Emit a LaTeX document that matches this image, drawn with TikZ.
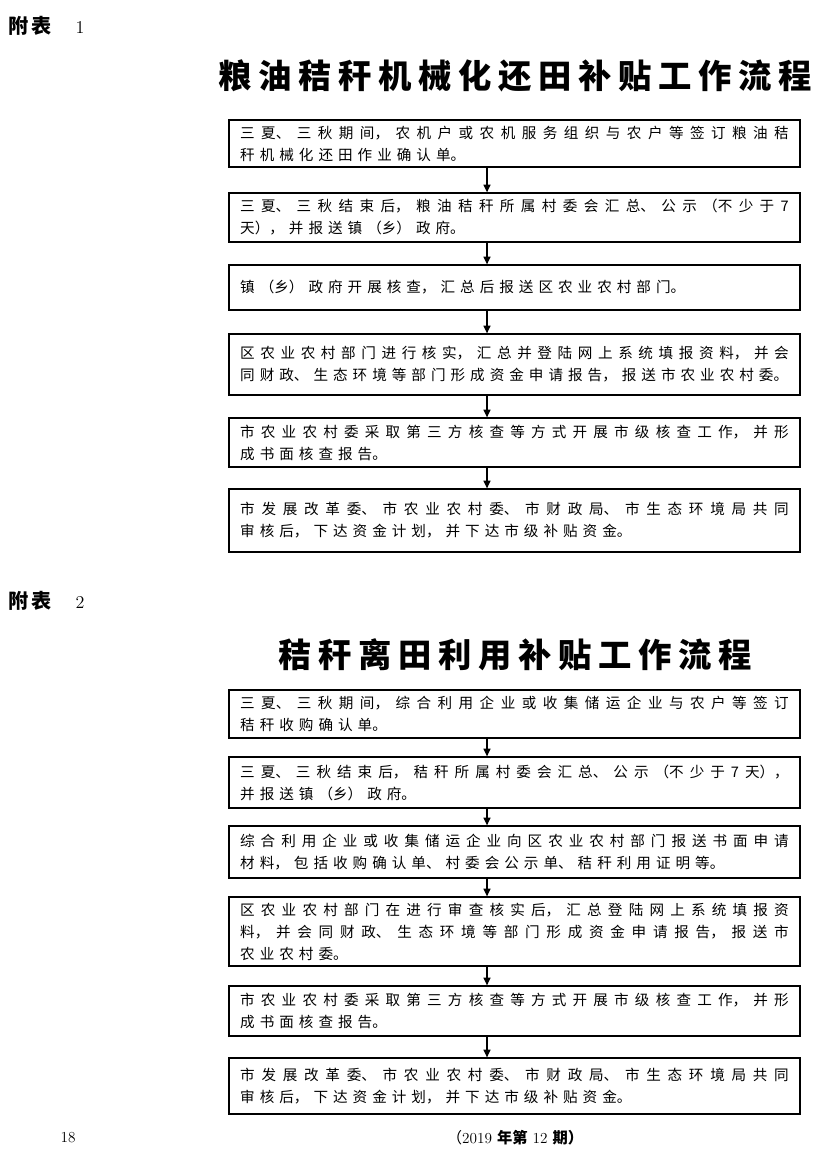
\documentclass[tikz,border=0pt]{standalone}
\usepackage{fontspec}
\usepackage{tikz}
\usetikzlibrary{arrows.meta}
\newfontfamily\cjk{Noto Sans CJK SC}
\newfontfamily\cjktitle[LetterSpace=20]{Noto Sans CJK SC}
\XeTeXlinebreaklocale "zh"
\XeTeXlinebreakskip=3.6pt plus 8pt minus 1.2pt
\tolerance=10000 \hbadness=10000
\tikzset{>/.tip={Triangle[length=5.5pt,width=5pt]},
  stepbox/.style={draw, line width=0.9pt, text width=395pt, inner xsep=8pt,
    inner ysep=0pt, minimum height=#1*0.72pt, align=justify,
    font=\cjk\fontsize{10.5pt}{15.8pt}\selectfont},
  title/.style={inner sep=0pt, font=\cjktitle\bfseries\fontsize{24pt}{28pt}\selectfont},
  head/.style={anchor=west, inner sep=0pt},
  flow/.style={->, line width=1pt}}

\begin{document}
\begin{tikzpicture}[x=0.72pt,y=-0.72pt]
\fill[white] (0,0) rectangle (827,1170);
\useasboundingbox (0,0) rectangle (827,1170);
\coordinate (ax) at (487,0);

% table 1
\node[head] (head1) at (8,26) {{\cjk\bfseries\fontsize{14.5pt}{16pt}\selectfont 附\hspace{2.5pt}表}\hspace{17pt}{\fontsize{13pt}{15pt}\selectfont 1}};
\node[title] (title1) at (515,76) {粮油秸秆机械化还田补贴工作流程};
\node[stepbox=47] (a1) at (514.5,143.5) {三夏、三秋期间，农机户或农机服务组织与农户等签订粮油秸\linebreak 秆机械化还田作业确认单。};
\node[stepbox=49] (a2) at (514.5,217.5) {三夏、三秋结束后，粮油秸秆所属村委会汇总、公示（不少于7\linebreak 天），并报送镇（乡）政府。};
\node[stepbox=45] (a3) at (514.5,287.5) {镇（乡）政府开展核查，汇总后报送区农业农村部门。};
\node[stepbox=61] (a4) at (514.5,364.5) {区农业农村部门进行核实，汇总并登陆网上系统填报资料，并会\linebreak 同财政、生态环境等部门形成资金申请报告，报送市农业农村委。};
\node[stepbox=49] (a5) at (514.5,442.5) {市农业农村委采取第三方核查等方式开展市级核查工作，并形\linebreak 成书面核查报告。};
\node[stepbox=63] (a6) at (514.5,520.5) {市发展改革委、市农业农村委、市财政局、市生态环境局共同\linebreak 审核后，下达资金计划，并下达市级补贴资金。};
\draw[flow] (ax |- a1.south) -- (ax |- a2.north);
\draw[flow] (ax |- a2.south) -- (ax |- a3.north);
\draw[flow] (ax |- a3.south) -- (ax |- a4.north);
\draw[flow] (ax |- a4.south) -- (ax |- a5.north);
\draw[flow] (ax |- a5.south) -- (ax |- a6.north);

% table 2
\node[head] (head2) at (8,601) {{\cjk\bfseries\fontsize{14.5pt}{16pt}\selectfont 附\hspace{2.5pt}表}\hspace{17pt}{\fontsize{13pt}{15pt}\selectfont 2}};
\node[title] (title2) at (515,655) {秸秆离田利用补贴工作流程};
\node[stepbox=48] (b1) at (514.5,714) {三夏、三秋期间，综合利用企业或收集储运企业与农户等签订\linebreak 秸秆收购确认单。};
\node[stepbox=51] (b2) at (514.5,782.5) {三夏、三秋结束后，秸秆所属村委会汇总、公示（不少于7天），\linebreak 并报送镇（乡）政府。};
\node[stepbox=52] (b3) at (514.5,852) {综合利用企业或收集储运企业向区农业农村部门报送书面申请\linebreak 材料，包括收购确认单、村委会公示单、秸秆利用证明等。};
\node[stepbox=69] (b4) at (514.5,931.5) {区农业农村部门在进行审查核实后，汇总登陆网上系统填报资\linebreak 料，并会同财政、生态环境等部门形成资金申请报告，报送市\linebreak 农业农村委。};
\node[stepbox=50] (b5) at (514.5,1011) {市农业农村委采取第三方核查等方式开展市级核查工作，并形\linebreak 成书面核查报告。};
\node[stepbox=56] (b6) at (514.5,1086) {市发展改革委、市农业农村委、市财政局、市生态环境局共同\linebreak 审核后，下达资金计划，并下达市级补贴资金。};
\draw[flow] (ax |- b1.south) -- (ax |- b2.north);
\draw[flow] (ax |- b2.south) -- (ax |- b3.north);
\draw[flow] (ax |- b3.south) -- (ax |- b4.north);
\draw[flow] (ax |- b4.south) -- (ax |- b5.north);
\draw[flow] (ax |- b5.south) -- (ax |- b6.north);

% footer
\node (page) at (68,1138) {\fontsize{11pt}{13pt}\selectfont 18};
\node (issue) at (515,1138) {\fontsize{11pt}{13pt}\selectfont{\cjk （}2019 {\cjk\bfseries 年第} 12 {\cjk\bfseries 期）}};
\end{tikzpicture}
\end{document}
